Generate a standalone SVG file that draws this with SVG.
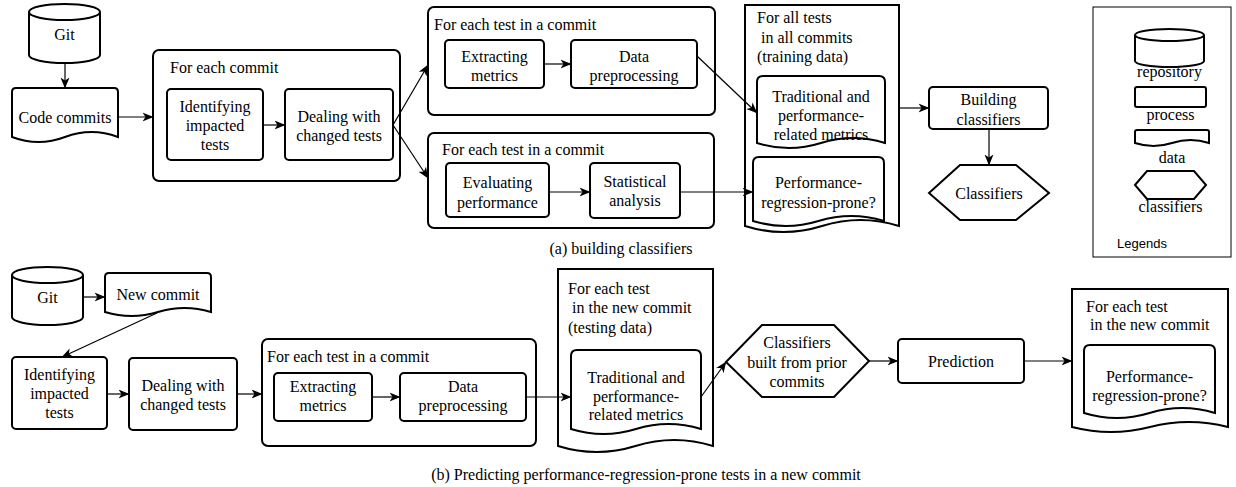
<svg xmlns="http://www.w3.org/2000/svg" width="1236" height="487" viewBox="0 0 1236 487">
<defs>
<marker id="arr" markerUnits="userSpaceOnUse" markerWidth="11" markerHeight="10" viewBox="0 0 11 10" refX="10.5" refY="5" orient="auto">
<path d="M0,0.5 L11,5 L0,9.5 L3,5 Z" fill="#000"/>
</marker>
<style>
.n{fill:#fff;stroke:#000;stroke-width:2}
.c{fill:#fff;stroke:#000;stroke-width:2}
.t{font-family:"Liberation Serif","Times New Roman",serif;font-size:16px;fill:#000}
.m{text-anchor:middle}
.e{fill:none;stroke:#000;stroke-width:1.2;marker-end:url(#arr)}
.leg{font-family:"Liberation Sans",Arial,sans-serif;font-size:13px;fill:#000}
</style>
</defs>
<rect width="1236" height="487" fill="#fff"/>

<!-- (a) -->
<g id="git-a">
<path class="n" d="M29,12 A35.5,8 0 0 1 100,12 V55 A35.5,8 0 0 1 29,55 Z"/>
<path fill="none" stroke="#000" stroke-width="2" d="M29,12 A35.5,8 0 0 0 100,12"/>
<text class="t m" x="64.5" y="40">Git</text>
</g>
<g id="code-commits">
<path class="n" d="M12,92 Q12,88 16,88 H114 Q118,88 118,92 V137 Q91.5,127 65,137 Q38.5,147 12,137 Z"/>
<text class="t m" x="65" y="123">Code commits</text>
</g>
<g id="for-each-commit">
<rect class="c" x="153" y="50" width="247" height="131" rx="6"/>
<text class="t" x="170" y="73">For each commit</text>
</g>
<g id="identifying-a">
<rect class="n" x="167" y="89" width="96" height="71" rx="4"/>
<text class="t m" x="215" y="112">Identifying</text>
<text class="t m" x="215" y="131">impacted</text>
<text class="t m" x="215" y="150">tests</text>
</g>
<g id="dealing-a">
<rect class="n" x="285" y="89" width="108" height="71" rx="4"/>
<text class="t m" x="339" y="122">Dealing with</text>
<text class="t m" x="339" y="141">changed tests</text>
</g>
<g id="container-metrics-a">
<rect class="c" x="428" y="7" width="287" height="108" rx="6"/>
<text class="t" x="434" y="30">For each test in a commit</text>
</g>
<g id="extracting-a">
<rect class="n" x="445" y="40" width="99" height="48" rx="4"/>
<text class="t m" x="494.5" y="62">Extracting</text>
<text class="t m" x="494.5" y="81">metrics</text>
</g>
<g id="preprocessing-a">
<rect class="n" x="571" y="40" width="126" height="48" rx="4"/>
<text class="t m" x="634" y="62">Data</text>
<text class="t m" x="634" y="81">preprocessing</text>
</g>
<g id="container-perf-a">
<rect class="c" x="428" y="133" width="286" height="95" rx="6"/>
<text class="t" x="442" y="155">For each test in a commit</text>
</g>
<g id="evaluating">
<rect class="n" x="446" y="163" width="103" height="54" rx="4"/>
<text class="t m" x="497.5" y="188">Evaluating</text>
<text class="t m" x="497.5" y="208">performance</text>
</g>
<g id="statistical">
<rect class="n" x="590" y="163" width="90" height="55" rx="4"/>
<text class="t m" x="635" y="187">Statistical</text>
<text class="t m" x="635" y="206">analysis</text>
</g>
<g id="training-data">
<path class="n" d="M745,5 H899 V226 Q860.5,214 822,226 Q783.5,238 745,226 Z"/>
<text class="t" x="757" y="23">For all tests</text>
<text class="t" x="757" y="43" xml:space="preserve"> in all commits</text>
<text class="t" x="757" y="62">(training data)</text>
</g>
<g id="metrics-a">
<path class="n" d="M757,82 Q757,76 763,76 H879 Q885,76 885,82 V143 Q853,133 821,143 Q789,153 757,143 Z"/>
<text class="t m" x="821" y="102">Traditional and</text>
<text class="t m" x="821" y="121">performance-</text>
<text class="t m" x="821" y="140">related metrics</text>
</g>
<g id="prone-a">
<path class="n" d="M753,163 Q753,157 759,157 H878 Q884,157 884,163 V221 Q851.25,211 818.5,221 Q785.75,231 753,221 Z"/>
<text class="t m" x="818.5" y="188">Performance-</text>
<text class="t m" x="818.5" y="208">regression-prone?</text>
</g>
<g id="building">
<rect class="n" x="929" y="87" width="119" height="42" rx="4"/>
<text class="t m" x="988.5" y="105">Building</text>
<text class="t m" x="988.5" y="125">classifiers</text>
</g>
<g id="classifiers-a">
<polygon class="n" points="929,193 960,165 1016,165 1049,193 1016,220 960,220"/>
<text class="t m" x="989" y="199">Classifiers</text>
</g>
<text class="t m" x="621" y="254">(a) building classifiers</text>

<!-- Legend -->
<g id="legend">
<rect x="1093" y="7" width="138" height="250" fill="#fff" stroke="#000" stroke-width="1"/>
<path class="n" d="M1135,35 A34.5,6 0 0 1 1204,35 V61 A34.5,6 0 0 1 1135,61 Z"/>
<path fill="none" stroke="#000" stroke-width="2" d="M1135,35 A34.5,6 0 0 0 1204,35"/>
<text class="t m" x="1169.5" y="77">repository</text>
<rect class="n" x="1135" y="87" width="71" height="20" rx="2"/>
<text class="t m" x="1170.5" y="120">process</text>
<path class="n" d="M1135,132 Q1135,130 1137,130 H1207 Q1209,130 1209,132 V143 Q1190.5,137 1172,143 Q1153.5,149 1135,143 Z"/>
<text class="t m" x="1172" y="163">data</text>
<polygon class="n" points="1135,185 1147,171 1194,171 1206,185 1194,199 1147,199"/>
<text class="t m" x="1170.5" y="212">classifiers</text>
<text class="leg" x="1117" y="248">Legends</text>
</g>

<!-- (b) -->
<g id="git-b">
<path class="n" d="M12,275 A35.5,8 0 0 1 83,275 V317 A35.5,8 0 0 1 12,317 Z"/>
<path fill="none" stroke="#000" stroke-width="2" d="M12,275 A35.5,8 0 0 0 83,275"/>
<text class="t m" x="47.5" y="303">Git</text>
</g>
<g id="new-commit">
<path class="n" d="M105,277 Q105,273 109,273 H207 Q211,273 211,277 V312 Q184.5,304 158,312 Q131.5,320 105,312 Z"/>
<text class="t m" x="158" y="300">New commit</text>
</g>
<g id="identifying-b">
<rect class="n" x="12" y="357" width="95" height="72" rx="4"/>
<text class="t m" x="59.5" y="380">Identifying</text>
<text class="t m" x="59.5" y="399">impacted</text>
<text class="t m" x="59.5" y="418">tests</text>
</g>
<g id="dealing-b">
<rect class="n" x="129" y="358" width="108" height="72" rx="4"/>
<text class="t m" x="183" y="391">Dealing with</text>
<text class="t m" x="183" y="410">changed tests</text>
</g>
<g id="container-metrics-b">
<rect class="c" x="262" y="339" width="274" height="107" rx="6"/>
<text class="t" x="267" y="362">For each test in a commit</text>
</g>
<g id="extracting-b">
<rect class="n" x="274" y="373" width="98" height="48" rx="4"/>
<text class="t m" x="323" y="392">Extracting</text>
<text class="t m" x="323" y="411">metrics</text>
</g>
<g id="preprocessing-b">
<rect class="n" x="400" y="373" width="126" height="48" rx="4"/>
<text class="t m" x="463" y="392">Data</text>
<text class="t m" x="463" y="411">preprocessing</text>
</g>
<g id="testing-data">
<path class="n" d="M558,269 H713 V446 Q674.25,434 635.5,446 Q596.75,458 558,446 Z"/>
<text class="t" x="568" y="294">For each test</text>
<text class="t" x="568" y="313" xml:space="preserve"> in the new commit</text>
<text class="t" x="568" y="333">(testing data)</text>
</g>
<g id="metrics-b">
<path class="n" d="M571,356 Q571,350 577,350 H695 Q701,350 701,356 V429 Q668.5,419 636,429 Q603.5,439 571,429 Z"/>
<text class="t m" x="636" y="383">Traditional and</text>
<text class="t m" x="636" y="402">performance-</text>
<text class="t m" x="636" y="420">related metrics</text>
</g>
<g id="classifiers-b">
<polygon class="n" points="726,362 762,325 834,325 869,361 834,397 762,397"/>
<text class="t m" x="797" y="348">Classifiers</text>
<text class="t m" x="797" y="368">built from prior</text>
<text class="t m" x="797" y="387">commits</text>
</g>
<g id="prediction">
<rect class="n" x="898" y="339" width="126" height="44" rx="4"/>
<text class="t m" x="961" y="367">Prediction</text>
</g>
<g id="result-data">
<path class="n" d="M1072,289 H1228 V427 Q1189,417 1150,427 Q1111,437 1072,427 Z"/>
<text class="t" x="1086" y="312">For each test</text>
<text class="t" x="1086" y="330" xml:space="preserve"> in the new commit</text>
</g>
<g id="prone-b">
<path class="n" d="M1084,351 Q1084,345 1090,345 H1209 Q1215,345 1215,351 V413 Q1182.25,403 1149.5,413 Q1116.75,423 1084,413 Z"/>
<text class="t m" x="1149.5" y="382">Performance-</text>
<text class="t m" x="1149.5" y="401">regression-prone?</text>
</g>
<text class="t m" x="646" y="480">(b) Predicting performance-regression-prone tests in a new commit</text>

<g id="connectors">
<path class="e" d="M65,63 L65,88"/>
<path class="e" d="M118,117 L153,117"/>
<path class="e" d="M263,125 L285,125"/>
<path class="e" d="M393,125 L428,65"/>
<path class="e" d="M393,125 L428,178"/>
<path class="e" d="M544,64 L571,64"/>
<path class="e" d="M697,56 L757,113"/>
<path class="e" d="M549,192 L590,192"/>
<path class="e" d="M680,192 L753,192"/>
<path class="e" d="M899,108 L929,108"/>
<path class="e" d="M989,129 L989,165"/>
<path class="e" d="M83,297 L105,297"/>
<path class="e" d="M157,313 L62,357"/>
<path class="e" d="M107,394 L129,394"/>
<path class="e" d="M237,394 L262,394"/>
<path class="e" d="M372,397 L400,397"/>
<path class="e" d="M526,397 L571,397"/>
<path class="e" d="M701,397 L726,362"/>
<path class="e" d="M869,361 L898,361"/>
<path class="e" d="M1024,361 L1072,361"/>
</g>
</svg>
